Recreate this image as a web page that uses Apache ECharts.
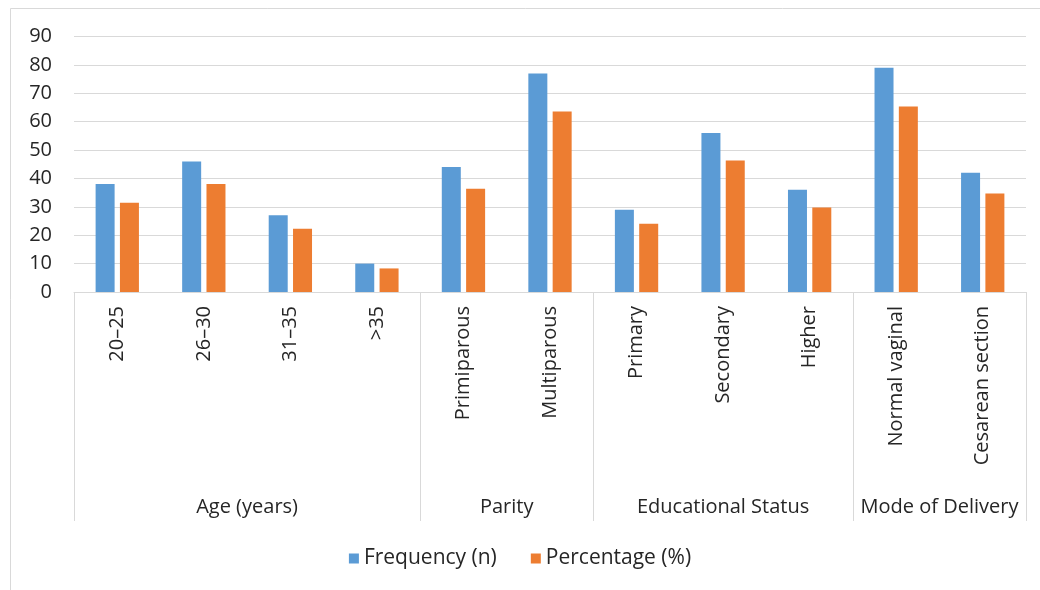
<!DOCTYPE html>
<html>
<head>
<meta charset="utf-8">
<script src="https://cdn.jsdelivr.net/npm/echarts@6/dist/echarts.min.js"></script>
<style>html,body{margin:0;padding:0;background:#fff;}#c{width:1040px;height:590px;}</style>
</head>
<body>
<div id="c"></div>
<script>
var categories = ['20–25', '26–30', '31–35', '>35', 'Primiparous', 'Multiparous', 'Primary', 'Secondary', 'Higher', 'Normal vaginal', 'Cesarean section'];
var frequency = [38, 46, 27, 10, 44, 77, 29, 56, 36, 79, 42];
var percentage = [31.4, 38.0, 22.3, 8.3, 36.4, 63.6, 24.0, 46.3, 29.8, 65.3, 34.7];
var groupNames = ['Age (years)', 'Parity', 'Educational Status', 'Mode of Delivery'];
var groupSizes = [4, 2, 3, 2];
var yTicks = [0, 10, 20, 30, 40, 50, 60, 70, 80, 90];

var bounds = [0], centers = [], acc = 0;
groupSizes.forEach(function (s) { centers.push(acc + s / 2); acc += s; bounds.push(acc); });
var centerMap = {};
centers.forEach(function (c, i) { centerMap[c] = groupNames[i]; });

var font = 'Open Sans, Noto Sans, sans-serif';
var chart = echarts.init(document.getElementById('c'), null, {renderer: 'canvas'});
chart.setOption({
  animation: false,
  backgroundColor: '#fff',
  color: ['#5b9bd5', '#ed7d31'],
  graphic: [
    {type: 'line', shape: {x1: 10.5, y1: 8.5, x2: 1040, y2: 8.5}, style: {stroke: '#d9d9d9', lineWidth: 1}},
    {type: 'line', shape: {x1: 10.5, y1: 8.5, x2: 10.5, y2: 590}, style: {stroke: '#d9d9d9', lineWidth: 1}}
  ],
  grid: {left: 74, right: 14, top: 36.5, bottom: 298, containLabel: false},
  legend: {
    top: 543, left: 'center', itemWidth: 10, itemHeight: 10, itemGap: 34,
    icon: 'rect',
    textStyle: {fontFamily: font, fontSize: 21, color: '#262626'},
    data: ['Frequency (n)', 'Percentage (%)']
  },
  xAxis: [
    {
      type: 'category', data: categories, position: 'bottom',
      axisLine: {lineStyle: {color: '#d9d9d9', width: 1}},
      axisTick: {show: false},
      axisLabel: {rotate: 90, fontFamily: font, fontSize: 20, color: '#262626', margin: 14, interval: 0}
    },
    {
      type: 'value', min: 0, max: categories.length, position: 'bottom', offset: 0,
      axisLine: {show: false},
      splitLine: {show: false},
      axisTick: {show: true, customValues: bounds, length: 229, lineStyle: {color: '#d9d9d9', width: 1}},
      axisLabel: {
        customValues: centers, margin: 205, fontFamily: font, fontSize: 20, color: '#262626',
        formatter: function (v) { return centerMap[v] || ''; }
      }
    }
  ],
  yAxis: {
    type: 'value', min: yTicks[0], max: yTicks[yTicks.length - 1], interval: 10,
    axisLine: {show: false}, axisTick: {show: false},
    splitLine: {lineStyle: {color: '#d9d9d9', width: 1}},
    axisLabel: {fontFamily: font, fontSize: 20, color: '#262626', margin: 22}
  },
  series: [
    {name: 'Frequency (n)', type: 'bar', xAxisIndex: 0, data: frequency, barWidth: 19, barGap: '28%'},
    {name: 'Percentage (%)', type: 'bar', xAxisIndex: 0, data: percentage, barWidth: 19, barGap: '28%'}
  ]
});
</script>
</body>
</html>
